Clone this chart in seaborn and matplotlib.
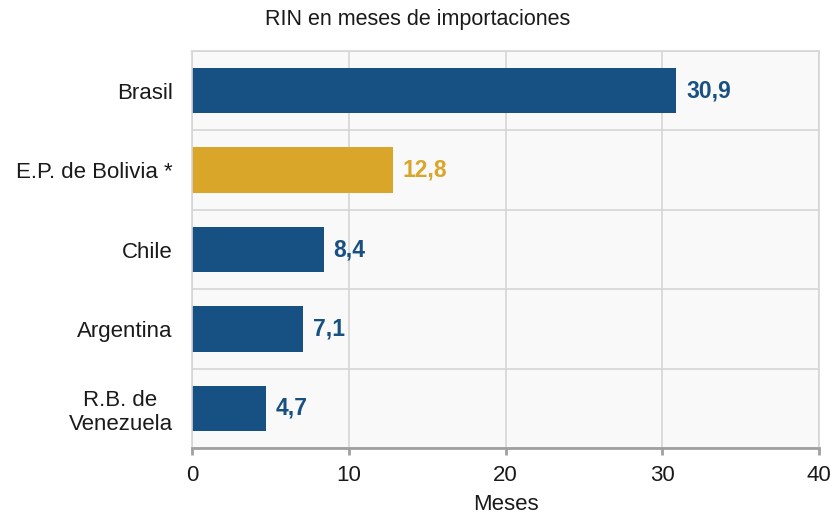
import matplotlib
matplotlib.use("Agg")
import matplotlib.pyplot as plt
import seaborn as sns
import pandas as pd
import numpy as np

countries = ["Brasil", "E.P. de Bolivia *", "Chile", "Argentina", "R.B. de\nVenezuela"]
values = [30.9, 12.8, 8.4, 7.1, 4.7]
groups = ["otros", "bolivia", "otros", "otros", "otros"]
palette = {"otros": "#175082", "bolivia": "#DAA62A"}

df = pd.DataFrame({"pais": countries, "valor": values, "grupo": groups})

sns.set_theme(style="white")
plt.rcParams["font.family"] = ["Liberation Sans", "DejaVu Sans"]

fig = plt.figure(figsize=(8.35, 5.12), dpi=100)
ax = fig.add_axes([192/835, 1-448/512, (819-192)/835, (448-51)/512])
ax.set_facecolor("#f9f9f9")

sns.barplot(data=df, y="pais", x="valor", hue="grupo", palette=palette,
            orient="h", width=0.57, dodge=False, legend=False, ax=ax,
            saturation=1, linewidth=0)

for cont in ax.containers:
    labs = []
    for bar in cont:
        w = bar.get_width()
        labs.append("" if np.isnan(w) else f"{w:.1f}".replace(".", ","))
    texts = ax.bar_label(cont, labels=labs, padding=7, fontsize=16.5, fontweight="bold")
    for t, bar in zip(texts, cont):
        t.set_color(bar.get_facecolor())

ax.set_xlim(0, 40)
ax.set_ylim(4.5, -0.5)
ax.set_xticks([0, 10, 20, 30, 40])
ax.set_yticks(range(len(countries)))
ax.set_yticklabels(countries, fontsize=16, multialignment="center")
ax.set_yticks(np.arange(-0.5, 5, 1), minor=True)
ax.tick_params(axis="x", labelsize=16, length=5, width=2,
               direction="out", pad=7, bottom=True, color="#a0a0a0", labelcolor="#1a1a1a")
ax.tick_params(axis="y", which="both", length=0, pad=14, labelcolor="#1a1a1a")
ax.grid(axis="x", which="major", color="#d6d6d6", linewidth=1.2)
ax.grid(axis="y", which="minor", color="#d6d6d6", linewidth=1.2)
ax.set_axisbelow(True)

ax.set_ylabel("")
ax.set_xlabel("Meses", fontsize=16, color="#1a1a1a", labelpad=6)

for s in ["top", "right", "left"]:
    ax.spines[s].set_visible(True)
    ax.spines[s].set_color("#d6d6d6")
    ax.spines[s].set_linewidth(1.2)
ax.spines["bottom"].set_color("#a0a0a0")
ax.spines["bottom"].set_linewidth(2)

fig.text(0.5, 1-20/512, "RIN en meses de importaciones", ha="center", va="center",
         fontsize=15.5, color="#1a1a1a")

fig.savefig("out.png", dpi=100)
